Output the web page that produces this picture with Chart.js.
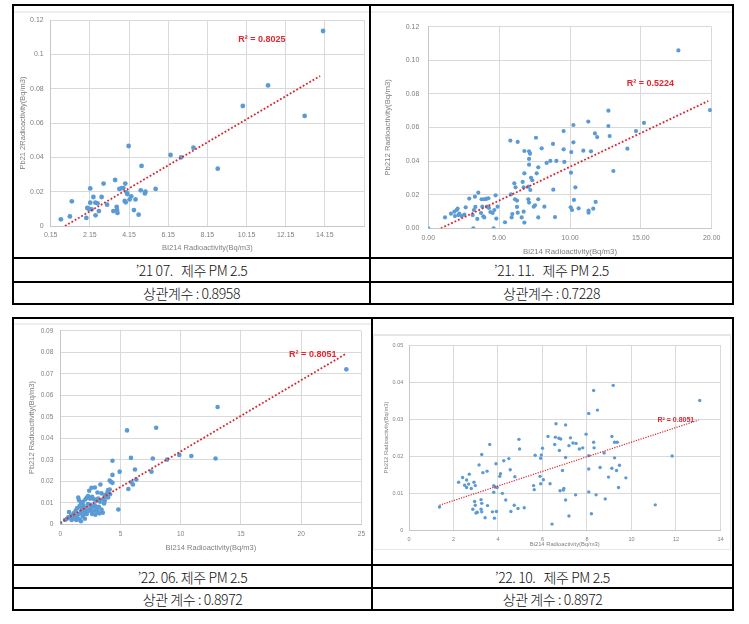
<!DOCTYPE html>
<html>
<head>
<meta charset="utf-8">
<script src="https://cdn.jsdelivr.net/npm/chart.js@4.4.0/dist/chart.umd.min.js"></script>
<style>
body{margin:0;background:#fff;width:749px;height:624px;position:relative;overflow:hidden;font-family:"Noto Sans CJK KR",sans-serif;}
canvas{position:absolute;}
.ln{position:absolute;background:#000;}
.frame{position:absolute;box-sizing:border-box;}
.cap{position:absolute;display:flex;align-items:center;justify-content:center;font-size:14px;font-weight:300;color:#111;white-space:pre;letter-spacing:-0.4px;}
</style>
</head>
<body>

<div class="frame" style="left:14px;top:11px;width:355px;height:245px;border-top:2px solid #eeeeee;"></div>
<div class="frame" style="left:371px;top:11px;width:361px;height:245px;border-top:2px solid #f2f2f2;"></div>
<div class="frame" style="left:14px;top:323px;width:357px;height:240px;border-top:2px solid #eeeeee;"></div>
<div class="frame" style="left:373px;top:334px;width:358px;height:216px;border:1px solid #e6e6e6;border-top:2px solid #e6e6e6;"></div>

<canvas id="c1" width="355" height="249" style="left:14px;top:8px;"></canvas>
<canvas id="c2" width="359" height="249" style="left:372px;top:8px;"></canvas>
<canvas id="c3" width="357" height="244" style="left:14px;top:320px;"></canvas>
<canvas id="c4" width="356" height="212" style="left:374px;top:336px;"></canvas>

<!-- top table -->
<div class="ln" style="left:12px;top:4px;width:722px;height:2px;"></div>
<div class="ln" style="left:12px;top:257px;width:722px;height:2px;"></div>
<div class="ln" style="left:12px;top:281px;width:722px;height:2px;"></div>
<div class="ln" style="left:12px;top:303px;width:722px;height:2px;"></div>
<div class="ln" style="left:12px;top:4px;width:2px;height:301px;"></div>
<div class="ln" style="left:369px;top:4px;width:2px;height:301px;"></div>
<div class="ln" style="left:732px;top:4px;width:2px;height:301px;"></div>
<!-- bottom table -->
<div class="ln" style="left:12px;top:317px;width:722px;height:2px;"></div>
<div class="ln" style="left:12px;top:564px;width:722px;height:2px;"></div>
<div class="ln" style="left:12px;top:587px;width:722px;height:2px;"></div>
<div class="ln" style="left:12px;top:609px;width:722px;height:2px;"></div>
<div class="ln" style="left:12px;top:317px;width:2px;height:294px;"></div>
<div class="ln" style="left:371px;top:317px;width:2px;height:294px;"></div>
<div class="ln" style="left:732px;top:317px;width:2px;height:294px;"></div>

<div class="cap" style="left:14px;top:259px;width:355px;height:22px;">’21 07.   제주 PM 2.5</div>
<div class="cap" style="left:14px;top:283px;width:355px;height:20px;">상관계수 : 0.8958</div>
<div class="cap" style="left:371px;top:259px;width:361px;height:22px;">’21. 11.   제주 PM 2.5</div>
<div class="cap" style="left:371px;top:283px;width:361px;height:20px;">상관계수 : 0.7228</div>
<div class="cap" style="left:14px;top:566px;width:357px;height:21px;">’22. 06. 제주 PM 2.5</div>
<div class="cap" style="left:14px;top:589px;width:357px;height:20px;">상관 계수 : 0.8972</div>
<div class="cap" style="left:373px;top:566px;width:359px;height:21px;">’22. 10.   제주 PM 2.5</div>
<div class="cap" style="left:373px;top:589px;width:359px;height:20px;">상관 계수 : 0.8972</div>

<script>
// '21.07 제주 PM2.5
const x1 = [0.67,1.13,1.23,1.97,2.02,2.11,2.17,2.17,2.24,2.33,2.43,2.44,2.54,2.61,2.75,2.85,3.03,3.35,3.44,3.52,3.54,3.56,3.66,3.78,3.86,3.96,3.93,3.98,4.03,4.06,4.13,4.18,4.26,4.40,4.48,4.64,4.75,4.79,4.96,4.99,5.51,6.27,6.81,7.44,8.68,9.96,11.25,13.12,14.06];
const y1 = [0.0039,0.0056,0.0144,0.0047,0.0105,0.0099,0.0219,0.0136,0.0097,0.0169,0.0136,0.0062,0.0132,0.0087,0.0169,0.0247,0.0124,0.0087,0.0268,0.0111,0.0093,0.0076,0.0216,0.0221,0.0221,0.0247,0.0146,0.0138,0.0196,0.0186,0.0466,0.0155,0.0173,0.0093,0.0155,0.0066,0.0208,0.0350,0.0190,0.0200,0.0216,0.0414,0.0400,0.0456,0.0334,0.0699,0.0819,0.0641,0.1136];
const trendX1 = [0.88, 13.91];
const trendY1 = [0, 0.0874];
const xTicks1 = [0.15,2.15,4.15,6.15,8.15,10.15,12.15,14.15,16.15];
const xLabels1 = ['0.15','2.15','4.15','6.15','8.15','10.15','12.15','14.15'];
const yTicks1 = [0,0.02,0.04,0.06,0.08,0.1,0.12];
const yLabels1 = ['0','0.02','0.04','0.06','0.08','0.1','0.12'];

// '21.11 제주 PM2.5
const x2 = [0,1.18,1.6,1.84,2.0,2.07,1.88,2.12,2.19,2.35,2.54,2.64,2.89,3.18,3.13,3.22,3.32,3.29,3.53,3.46,3.76,3.93,3.81,3.72,3.88,3.95,4.09,4.24,4.14,4.28,4.38,4.54,4.61,4.66,4.75,4.8,4.89,5.41,5.79,5.88,5.93,5.84,6.07,6.16,6.12,6.26,6.31,6.26,6.31,6.59,6.66,6.73,6.78,6.78,6.78,6.73,7.06,7.11,7.11,7.11,7.06,7.11,7.18,7.25,7.34,7.2,7.44,7.53,7.6,7.65,7.76,7.76,7.76,8.0,8.19,8.35,8.61,8.82,8.8,8.94,9.04,9.55,9.55,9.6,10.09,10.07,10.05,10.14,10.24,10.24,10.38,10.28,10.61,10.94,11.29,11.48,11.31,11.31,11.64,11.81,11.76,11.92,12.71,12.71,12.8,13.06,14.05,14.66,15.22,17.65,19.88];
const y2 = [0,0.0065,0.0087,0.0099,0.0109,0.0117,0.0073,0.0079,0.0087,0.0073,0.0081,0.0125,0.0177,0,0.0079,0.0109,0.0127,0.0188,0.0212,0.0056,0.0173,0.0173,0.0129,0.0091,0.0071,0.0065,0.0175,0.0179,0.0129,0.0121,0.0097,0.0091,0,0.0109,0.0196,0.0058,0.0129,0.0036,0.0522,0.0065,0.0085,0.0202,0.0268,0.0244,0.0173,0.0165,0.0514,0.0127,0.0093,0.0065,0.0276,0.0244,0.046,0.0327,0.0034,0.0099,0.0248,0.0458,0.0413,0.0379,0.0173,0.0153,0.0444,0.0301,0.0286,0.0228,0.0129,0.0137,0.0539,0.0327,0.0363,0.0173,0.0065,0.0476,0.0129,0.0389,0.0401,0.023,0.0502,0.0067,0.0401,0.0579,0.047,0.0395,0.0454,0.0331,0.0125,0.0109,0.0615,0.0512,0.0244,0.0169,0.0119,0.0462,0.0635,0.0458,0.0105,0.0093,0.0117,0.0157,0.0565,0.0543,0.07,0.0609,0.0549,0.0341,0.0474,0.0579,0.0627,0.1059,0.0704];
const trendX2 = [0.89, 19.76];
const trendY2 = [0, 0.0758];
const xTicks2 = [0,5,10,15,20];
const xLabels2 = ['0.00','5.00','10.00','15.00','20.00'];
const yTicks2 = [0,0.02,0.04,0.06,0.08,0.1,0.12];
const yLabels2 = ['0.00','0.02','0.04','0.06','0.08','0.10','0.12'];

// '22.06 제주 PM2.5
const x3 = [0,5.54,7.96,13.06,23.75,12.89,10.88,9.88,8.87,7.68,5.87,7.57,6.2,6.31,5.9,6.03,5.65,4.93,4.33,4.33,4.82,4.1,4.33,4.2,
  3.33,2.59,2.87,2.4,3.09,3.42,3.69,3.97,4.1,3.91,3.55,3.83,1.49,1.54,1.71,1.87,2.09,2.2,2.31,2.48,2.64,2.81,2.98,3.14,3.31,2.31,2.53,2.7,2.87,3.03,3.2,3.42,3.53,2.42,2.26,2.59,2.81,2.92,2.64,2.2,1.98,1.76,1.6,1.38,1.27,1.1,0.88,0.72,0.55,0.66,1.05,1.21,1.38,1.49,1.6,1.71,1.87,2.04,1.32,1.54,1.82,2.04,1.16,0.94,0.39,0.83,1.71,1.93,2.09,2.48,3.09,3.25,3.69,3.97,3.64,4.13];
const y3 = [0,0.0437,0.0449,0.0546,0.0721,0.0306,0.0318,0.0323,0.0301,0.0306,0.0309,0.0245,0.0255,0.0208,0.0196,0.0185,0.0164,0.0245,0.0296,0.023,0.0069,0.0204,0.0193,0.0198,
  0.0185,0.017,0.0171,0.0156,0.0148,0.0144,0.0136,0.0159,0.0162,0.0147,0.0116,0.0128,0.0125,0.0113,0.01,0.0105,0.0116,0.0125,0.0131,0.0119,0.0128,0.0116,0.011,0.012,0.0105,0.0094,0.009,0.0082,0.0088,0.0074,0.0082,0.0069,0.0054,0.0066,0.006,0.0059,0.0063,0.0045,0.0048,0.0048,0.0063,0.0074,0.0085,0.0074,0.0063,0.0051,0.0039,0.0057,0.0026,0.0032,0.0026,0.0032,0.0039,0.0026,0.0023,0.0014,0.0036,0.0026,0.002,0.0048,0.0048,0.0048,0.0042,0.002,0.002,0.0032,0.0059,0.0088,0.0074,0.0074,0.006,0.0051,0.011,0.0125,0.0097,0.014];
const trendX3 = [0, 23.7];
const trendY3 = [0.0008, 0.0793];
const xTicks3 = [0,5,10,15,20,25];
const xLabels3 = ['0','5','10','15','20','25'];
const yTicks3 = [0,0.01,0.02,0.03,0.04,0.05,0.06,0.07,0.08,0.09];
const yLabels3 = ['0','0.01','0.02','0.03','0.04','0.05','0.06','0.07','0.08','0.09'];

// '22.10 제주 PM2.5
const x4 = [1.37,2.23,2.41,2.59,2.5,2.59,2.68,2.71,2.8,2.92,2.98,2.95,2.98,3.01,3.07,2.87,3.24,3.27,3.24,3.27,3.42,3.53,3.15,3.27,3.32,3.51,3.63,3.75,3.84,3.81,3.81,3.87,3.91,3.93,3.96,4.08,4.11,4.2,4.26,4.35,4.49,4.55,4.58,4.73,4.76,4.9,4.94,4.97,5.18,5.6,5.63,5.67,5.92,5.95,6.0,5.89,5.92,6.04,6.34,6.25,6.43,6.58,6.55,6.61,6.74,6.82,6.76,6.79,6.9,6.96,6.94,
  7.04,7.04,7.04,7.19,7.19,7.26,7.37,7.51,7.66,7.81,7.49,7.96,8.08,8.08,8.08,8.08,8.2,8.3,8.3,8.32,8.47,8.41,8.59,8.77,8.82,8.97,9.12,9.18,9.12,9.24,9.36,9.24,9.33,9.46,9.42,9.75,11.07,11.83,13.07];
const y4 = [0.0062,0.0129,0.0142,0.0135,0.0121,0.0115,0.0124,0.0151,0.0112,0.0129,0.012,0.0077,0.0067,0.0046,0.0048,0.0056,0.0082,0.0072,0.0056,0.0049,0.0033,0.0066,0.0176,0.0204,0.0155,0.0159,0.0231,0.0049,0.0032,0.0102,0.012,0.0116,0.0179,0.005,0.0115,0.0145,0.0152,0.0099,0.0187,0.0081,0.0193,0.0163,0.005,0.0067,0.0144,0.0058,0.0245,0.0219,0.006,0.012,0.0109,0.0202,0.0194,0.0203,0.0221,0.0145,0.0125,0.0136,0.0125,0.0253,0.0016,0.0251,0.0231,0.0287,0.0248,0.0246,0.0215,0.0106,0.0161,0.0112,0.0108,
  0.0284,0.0196,0.0081,0.0038,0.0228,0.0249,0.0235,0.0234,0.0219,0.0222,0.0095,0.0259,0.0315,0.0201,0.0165,0.0103,0.0044,0.0377,0.0237,0.0222,0.0324,0.0095,0.0169,0.0208,0.0084,0.0143,0.0253,0.0391,0.0167,0.0237,0.0237,0.0195,0.0161,0.0175,0.0115,0.0141,0.0068,0.02,0.035];
const trendX4 = [1.37, 13.02];
const trendY4 = [0.0067, 0.0297];
const xTicks4 = [0,2,4,6,8,10,12,14];
const xLabels4 = ['0','2','4','6','8','10','12','14'];
const yTicks4 = [0,0.01,0.02,0.03,0.04,0.05];
const yLabels4 = ['0','0.01','0.02','0.03','0.04','0.05'];

const r2Text = ['R² = 0.8025', 'R² = 0.5224', 'R² = 0.8051', 'R² = 0.8051'];

function pts(xs, ys){
    return xs.map((x, i) => ({x: x, y: ys[i]}));
}

const FONT = '"Liberation Sans", Arial, sans-serif';
const GRID = '#d9d9d9';
const TXT = '#7f7f7f';

function makeScatter(id, c){
    const ctx = document.getElementById(id).getContext('2d');
    return new Chart(ctx, {
        type: 'scatter',
        data: {
            datasets: [
                {
                    data: pts(c.xs, c.ys),
                    backgroundColor: '#5b9bd5',
                    borderWidth: 0,
                    pointRadius: c.r,
                    order: 1
                },
                {
                    type: 'line',
                    data: pts(c.tx, c.ty),
                    showLine: true,
                    borderColor: '#d8262f',
                    borderWidth: c.tw,
                    borderDash: [c.tw, c.tw * 1.1],
                    pointRadius: 0,
                    fill: false,
                    order: 0
                }
            ]
        },
        options: {
            responsive: false,
            animation: false,
            events: [],
            layout: {padding: {left: 0, top: c.top, right: c.right, bottom: 0}},
            plugins: {legend: {display: false}, tooltip: {enabled: false}},
            scales: {
                x: {
                    type: 'linear',
                    min: c.xt[0],
                    max: c.xt[c.xt.length - 1],
                    afterBuildTicks: s => { s.ticks = c.xt.map(v => ({value: v})); },
                    afterFit: s => { s.height = c.xh; },
                    grid: {color: GRID, drawTicks: false},
                    border: {color: '#c8c8c8'},
                    ticks: {
                        callback: (v, i) => c.xl[i] ?? '',
                        autoSkip: false, maxRotation: 0,
                        padding: c.xpad, color: TXT,
                        font: {family: FONT, size: c.tf}
                    },
                    title: {
                        display: true, text: c.xtitle, color: TXT,
                        font: {family: FONT, size: c.ttf},
                        padding: {top: 0, bottom: c.xtpad}
                    }
                },
                y: {
                    type: 'linear',
                    min: c.yt[0],
                    max: c.yt[c.yt.length - 1],
                    afterBuildTicks: s => { s.ticks = c.yt.map(v => ({value: v})); },
                    afterFit: s => { s.width = c.yw; },
                    grid: {color: GRID, drawTicks: false},
                    border: {color: '#c8c8c8'},
                    ticks: {
                        callback: (v, i) => c.yl[i] ?? '',
                        autoSkip: false,
                        padding: c.ypad, color: TXT,
                        font: {family: FONT, size: c.tf}
                    },
                    title: {
                        display: true, text: c.ytitle, color: TXT,
                        font: {family: FONT, size: c.ttf},
                        padding: {top: c.ytpad, bottom: 0}
                    }
                }
            }
        },
        plugins: [{
            id: 'r2label',
            afterDatasetsDraw(chart){
                const g = chart.ctx;
                g.save();
                g.fillStyle = '#e3262f';
                g.font = 'bold ' + c.lf + 'px ' + FONT;
                g.textAlign = 'left';
                g.textBaseline = 'middle';
                g.fillText(c.label, chart.scales.x.getPixelForValue(c.lx), chart.scales.y.getPixelForValue(c.ly));
                g.restore();
            }
        }]
    });
}

makeScatter('c1', {
    xs: x1, ys: y1, tx: trendX1, ty: trendY1,
    xt: xTicks1, xl: xLabels1, yt: yTicks1, yl: yLabels1,
    xtitle: 'BI214 Radioactivity(Bq/m3)', ytitle: 'Pb21 2Radioactivity(Bq/m3)',
    r: 2.4, tw: 1.8, top: 12, right: 1, xh: 31, yw: 36.7,
    xpad: 5, ypad: 7, xtpad: 5, ytpad: 4, tf: 7, ttf: 7.5,
    label: r2Text[0], lx: 9.73, ly: 0.1088, lf: 9
});

makeScatter('c2', {
    xs: x2, ys: y2, tx: trendX2, ty: trendY2,
    xt: xTicks2, xl: xLabels2, yt: yTicks2, yl: yLabels2,
    xtitle: 'Bi214 Radioactivity(Bq/m3)', ytitle: 'Pb212 Radioactivity(Bq/m3)',
    r: 2.1, tw: 1.8, top: 18.7, right: 19.3, xh: 28.7, yw: 56.3,
    xpad: 5.5, ypad: 9, xtpad: 0, ytpad: 11.5, tf: 7, ttf: 7.8,
    label: r2Text[1], lx: 14.0, ly: 0.0859, lf: 9
});

makeScatter('c3', {
    xs: x3, ys: y3, tx: trendX3, ty: trendY3,
    xt: xTicks3, xl: xLabels3, yt: yTicks3, yl: yLabels3,
    xtitle: 'BI214 Radioactivity(Bq/m3)', ytitle: 'Pb212 Radioactivity(Bq/m3)',
    r: 2.3, tw: 1.8, top: 10, right: 8.3, xh: 39.7, yw: 46.3,
    xpad: 6, ypad: 7, xtpad: 11.5, ytpad: 13.5, tf: 6.5, ttf: 7.5,
    label: r2Text[2], lx: 19.0, ly: 0.079, lf: 9
});

makeScatter('c4', {
    xs: x4, ys: y4, tx: trendX4, ty: trendY4,
    xt: xTicks4, xl: xLabels4, yt: yTicks4, yl: yLabels4,
    xtitle: 'Bi214 Radioactivity(Bq/m3)', ytitle: 'Pb212 Radioactivity(Bq/m3)',
    r: 1.7, tw: 1.2, top: 8, right: 7.3, xh: 18, yw: 35,
    xpad: 6.5, ypad: 5.7, xtpad: 0, ytpad: 8.5, tf: 5.5, ttf: 5.8,
    label: r2Text[3], lx: 11.17, ly: 0.0298, lf: 7
});
</script>
</body>
</html>
